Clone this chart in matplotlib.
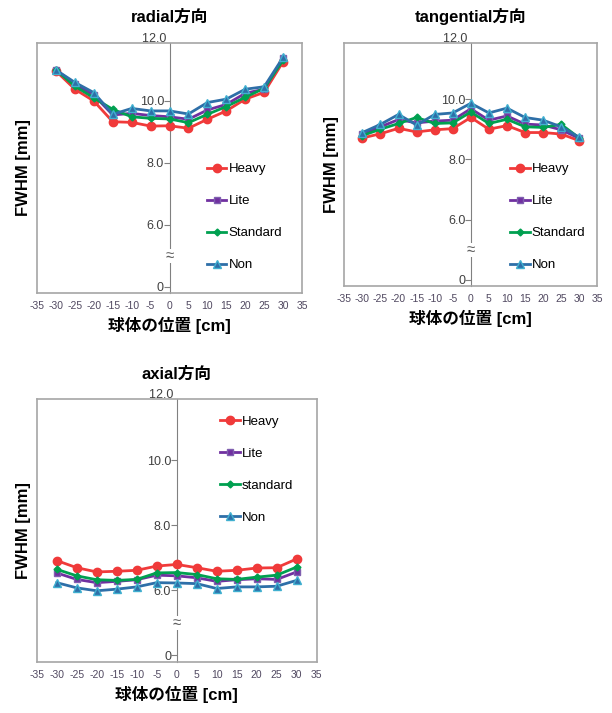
import matplotlib
matplotlib.use("Agg")
import matplotlib.pyplot as plt

plt.rcParams['font.family'] = ['Liberation Sans', 'Noto Sans CJK JP', 'DejaVu Sans']

positions = [-30, -25, -20, -15, -10, -5, 0, 5, 10, 15, 20, 25, 30]
x_ticks = list(range(-35, 40, 5))

# break axis: value 4.0 on the plot is labelled "0"
y_tick_vals = [4.0, 6.0, 8.0, 10.0]
y_tick_labels = ['0', '6.0', '8.0', '10.0']

radial_heavy = [10.97, 10.38, 10.0, 9.33, 9.31, 9.19, 9.2, 9.12, 9.41, 9.68, 10.06, 10.28, 11.27]
radial_lite = [11.0, 10.55, 10.19, 9.55, 9.6, 9.53, 9.49, 9.41, 9.71, 9.89, 10.25, 10.38, 11.38]
radial_standard = [11.0, 10.48, 10.1, 9.73, 9.49, 9.44, 9.42, 9.3, 9.57, 9.82, 10.12, 10.41, 11.32]
radial_non = [11.0, 10.6, 10.27, 9.57, 9.76, 9.68, 9.68, 9.58, 9.95, 10.06, 10.38, 10.46, 11.41]

tang_heavy = [8.71, 8.85, 9.03, 8.91, 8.98, 9.02, 9.39, 9.0, 9.12, 8.89, 8.89, 8.84, 8.62]
tang_lite = [8.84, 9.08, 9.32, 9.21, 9.27, 9.3, 9.68, 9.3, 9.44, 9.17, 9.14, 8.98, 8.7]
tang_standard = [8.79, 9.0, 9.19, 9.39, 9.19, 9.21, 9.57, 9.19, 9.33, 9.08, 9.06, 9.16, 8.71]
tang_non = [8.89, 9.16, 9.49, 9.14, 9.49, 9.54, 9.86, 9.54, 9.7, 9.39, 9.3, 9.08, 8.73]

axial_heavy = [6.91, 6.69, 6.56, 6.58, 6.61, 6.74, 6.79, 6.69, 6.58, 6.61, 6.68, 6.69, 6.96]
axial_lite = [6.53, 6.33, 6.23, 6.27, 6.32, 6.46, 6.44, 6.38, 6.27, 6.32, 6.35, 6.33, 6.56]
axial_standard = [6.64, 6.44, 6.32, 6.3, 6.33, 6.53, 6.54, 6.48, 6.35, 6.33, 6.4, 6.46, 6.71]
axial_non = [6.23, 6.07, 5.98, 6.03, 6.1, 6.23, 6.22, 6.2, 6.05, 6.1, 6.1, 6.12, 6.3]

styles = [
    dict(color='#f03a3a', marker='o', ms=6, mec='#f03a3a'),
    dict(color='#7030a0', marker='s', ms=5, mec='#8060b0'),
    dict(color='#00a050', marker='D', ms=3.5, mec='#00a050'),
    dict(color='#2e6fa8', marker='^', ms=6, mec='#40b0d0'),
]

GRAY = '#a6a6a6'


def draw_panel(ax, title, series, labels, legend_anchor):
    for vals, lab, st in zip(series, labels, styles):
        ax.plot(positions, vals, lw=2, label=lab, **st)

    ax.set_xlim(-35, 35)
    ax.set_ylim(3.8, 11.87)
    ax.set_xticks(x_ticks)
    ax.set_xticklabels([str(v) for v in x_ticks], fontsize=7.5, color='#504860')
    ax.tick_params(axis='x', length=0, pad=6)
    ax.set_yticks([])
    for s in ax.spines.values():
        s.set_color(GRAY)
        s.set_linewidth(1.2)

    # value axis drawn through x = 0
    sec = ax.secondary_yaxis(0.5)
    sec.yaxis.set_ticks_position('left')
    sec.set_yticks(y_tick_vals)
    sec.set_yticklabels(y_tick_labels, fontsize=9, color='#404040')
    sec.tick_params(length=4, color='#808080', pad=0)
    for s in sec.spines.values():
        s.set_color('#808080')
    ax.text(0, 12.0, '12.0 ', ha='right', va='center', fontsize=9,
            color='#404040', clip_on=False)
    ax.text(0, 5.0, '≈', ha='center', va='center', fontsize=11, color='#606060',
            bbox=dict(facecolor='white', edgecolor='none', pad=0))

    ax.set_title(title, fontsize=12, fontweight='bold', pad=15)
    ax.set_ylabel('FWHM [mm]', fontsize=12, fontweight='bold', labelpad=4)
    ax.set_xlabel('球体の位置 [cm]', fontsize=12, fontweight='bold', labelpad=4)

    ax.legend(loc='upper left', bbox_to_anchor=legend_anchor, frameon=False,
              fontsize=9.5, handlelength=1.5, handletextpad=0.15,
              labelspacing=1.5, borderpad=0, borderaxespad=0)


fig = plt.figure(figsize=(6.12, 7.13), dpi=100)
ax1 = fig.add_axes([0.0605, 0.589, 0.433, 0.3506])
ax2 = fig.add_axes([0.5626, 0.5989, 0.4134, 0.3412])
ax3 = fig.add_axes([0.060, 0.072, 0.4575, 0.368])

draw_panel(ax1, 'radial方向', [radial_heavy, radial_lite, radial_standard, radial_non],
           ['Heavy', 'Lite', 'Standard', 'Non'], (0.64, 0.52))
draw_panel(ax2, 'tangential方向', [tang_heavy, tang_lite, tang_standard, tang_non],
           ['Heavy', 'Lite', 'Standard', 'Non'], (0.655, 0.505))
draw_panel(ax3, 'axial方向', [axial_heavy, axial_lite, axial_standard, axial_non],
           ['Heavy', 'Lite', 'standard', 'Non'], (0.655, 0.9375))

fig.savefig('out.png', dpi=100)
